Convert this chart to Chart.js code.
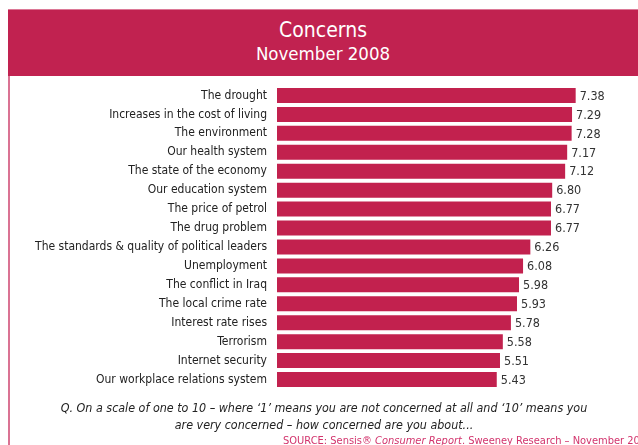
<!DOCTYPE html>
<html>
<head>
<meta charset="utf-8">
<script src="https://cdn.jsdelivr.net/npm/chart.js@4"></script>
<style>
  html, body { margin: 0; padding: 0; background: #fff; }
  body { width: 638px; height: 445px; position: relative; overflow: hidden;
         font-family: "DejaVu Sans Condensed", sans-serif; }
  #header { position: absolute; left: 8px; top: 9px; width: 630px; height: 67px;
            background: #c12250; border-top: 1px solid #dc7896; box-sizing: border-box;
            color: #fff; text-align: center; }
  #header .t1 { position: absolute; left: 0; right: 0; top: 8px; font-size: 21px; }
  #header .t2 { position: absolute; left: 0; right: 0; top: 33px; font-size: 18.5px; }
  #leftline { position: absolute; left: 8px; top: 76px; width: 2px; height: 369px; background: #da7393; }
  #wrap { position: absolute; left: 0; top: 0; width: 638px; height: 445px; }
  #note { position: absolute; left: 10px; width: 628px; top: 399px; text-align: center;
          font-style: italic; font-size: 12.4px; line-height: 17px; color: #222; }
  #source { position: absolute; left: 283px; top: 434px; font-size: 11px; color: #d2336c; white-space: nowrap; }
</style>
</head>
<body>
<div id="header"><div class="t1">Concerns</div><div class="t2">November 2008</div></div>
<div id="leftline"></div>
<div id="wrap"><canvas id="chart"></canvas></div>
<div id="note">Q. On a scale of one to 10 – where ‘1’ means you are not concerned at all and ‘10’ means you<br>are very concerned – how concerned are you about...</div>
<div id="source">SOURCE: Sensis® <i>Consumer Report</i>. Sweeney Research – November 2008</div>
<script>
const concerns = [
  "The drought",
  "Increases in the cost of living",
  "The environment",
  "Our health system",
  "The state of the economy",
  "Our education system",
  "The price of petrol",
  "The drug problem",
  "The standards & quality of political leaders",
  "Unemployment",
  "The conflict in Iraq",
  "The local crime rate",
  "Interest rate rises",
  "Terrorism",
  "Internet security",
  "Our workplace relations system"
];
const scores = [7.38, 7.29, 7.28, 7.17, 7.12, 6.80, 6.77, 6.77, 6.26, 6.08, 5.98, 5.93, 5.78, 5.58, 5.51, 5.43];

const valueLabels = {
  id: "valueLabels",
  afterDatasetsDraw(chart) {
    const ctx = chart.ctx;
    const meta = chart.getDatasetMeta(0);
    ctx.save();
    ctx.font = '12.5px "DejaVu Sans Condensed", sans-serif';
    ctx.fillStyle = "#333";
    ctx.textBaseline = "middle";
    ctx.textAlign = "left";
    meta.data.forEach((bar, i) => {
      ctx.fillText(scores[i].toFixed(2), bar.x + 4, bar.y + 1);
    });
    ctx.restore();
  }
};

new Chart(document.getElementById("chart"), {
  type: "bar",
  data: {
    labels: concerns,
    datasets: [{
      data: scores,
      backgroundColor: "#c2214e",
      borderWidth: 0,
      barPercentage: 0.79,
      categoryPercentage: 1
    }]
  },
  options: {
    indexAxis: "y",
    responsive: true,
    maintainAspectRatio: false,
    animation: false,
    layout: { padding: { top: 86, bottom: 56, left: 0, right: 17 } },
    plugins: { legend: { display: false }, tooltip: { enabled: false } },
    scales: {
      x: { display: false, min: 0, max: 8.5 },
      y: {
        grid: { display: false, drawTicks: false },
        border: { display: false },
        afterFit(scale) { scale.width = 277; },
        ticks: {
          autoSkip: false,
          padding: 10,
          color: "#222",
          font: { family: '"DejaVu Sans Condensed", sans-serif', size: 12 }
        }
      }
    }
  },
  plugins: [valueLabels]
});
</script>
</body>
</html>
